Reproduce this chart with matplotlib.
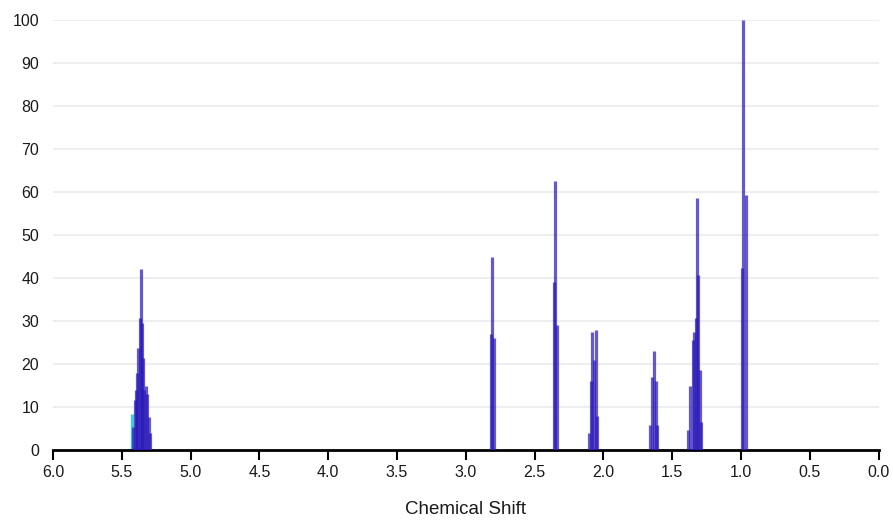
import matplotlib.pyplot as plt

# peak positions (ppm) and intensities
shifts = [5.416, 5.405, 5.394, 5.388, 5.381, 5.371, 5.364, 5.356, 5.349, 5.339, 5.327, 5.315, 5.304, 5.292,
          2.821, 2.810, 2.799,
          2.363, 2.350, 2.338,
          2.105, 2.091, 2.080, 2.069, 2.058, 2.047,
          1.662, 1.651, 1.633, 1.622, 1.611,
          1.386, 1.371, 1.350, 1.342, 1.331, 1.320, 1.313, 1.302, 1.295,
          0.993, 0.983, 0.964]
intensities = [5.3, 11.6, 14, 18, 23.7, 30.7, 42, 29.5, 21.4, 14, 15, 13, 7.7, 4,
               27, 45, 26,
               39, 62.5, 29,
               4, 16, 27.5, 21, 28, 8,
               5.8, 17, 23, 16, 5.8,
               4.6, 15, 25.6, 27.5, 30.7, 58.6, 40.7, 18.6, 6.5,
               42.3, 100, 59.3]

# highlighted peak
hl_shifts = [5.427]
hl_intensities = [8.4]

xticks = [6.0, 5.5, 5.0, 4.5, 4.0, 3.5, 3.0, 2.5, 2.0, 1.5, 1.0, 0.5, 0.0]
yticks = [0, 10, 20, 30, 40, 50, 60, 70, 80, 90, 100]

plt.rcParams['font.family'] = ['Liberation Sans', 'DejaVu Sans']

fig = plt.figure(figsize=(8.93, 5.2), dpi=100)
ax = fig.add_axes([0.0594, 0.1346, 0.9246, 0.8269])

for y in yticks[1:]:
    ax.axhline(y, color='#eeeeee', linewidth=1.5, zorder=0)

ax.vlines(hl_shifts, 0, hl_intensities, color='#3dd0dc', linewidth=2.4, zorder=2)
ax.vlines(shifts, 0, intensities, color='#2a1ab8', alpha=0.72, linewidth=2.3, zorder=3)

ax.set_xlim(6.0, 0.0)
ax.set_ylim(0, 100)
ax.set_xticks(xticks)
ax.set_xticklabels([f"{t:.1f}" for t in xticks])
ax.set_yticks(yticks)

for s in ['top', 'right', 'left']:
    ax.spines[s].set_visible(False)
ax.spines['bottom'].set_linewidth(2)
ax.spines['bottom'].set_color('black')

ax.tick_params(axis='x', direction='out', length=7, width=1.5, labelsize=11.5, pad=4, colors='black')
ax.tick_params(axis='x', labelcolor='#1a1a1a')
ax.tick_params(axis='y', length=0, labelsize=11.5, pad=10, labelcolor='#1a1a1a')

ax.set_xlabel("Chemical Shift", fontsize=13.5, color='#1a1a1a', labelpad=15)

fig.savefig("out.png", dpi=100)
